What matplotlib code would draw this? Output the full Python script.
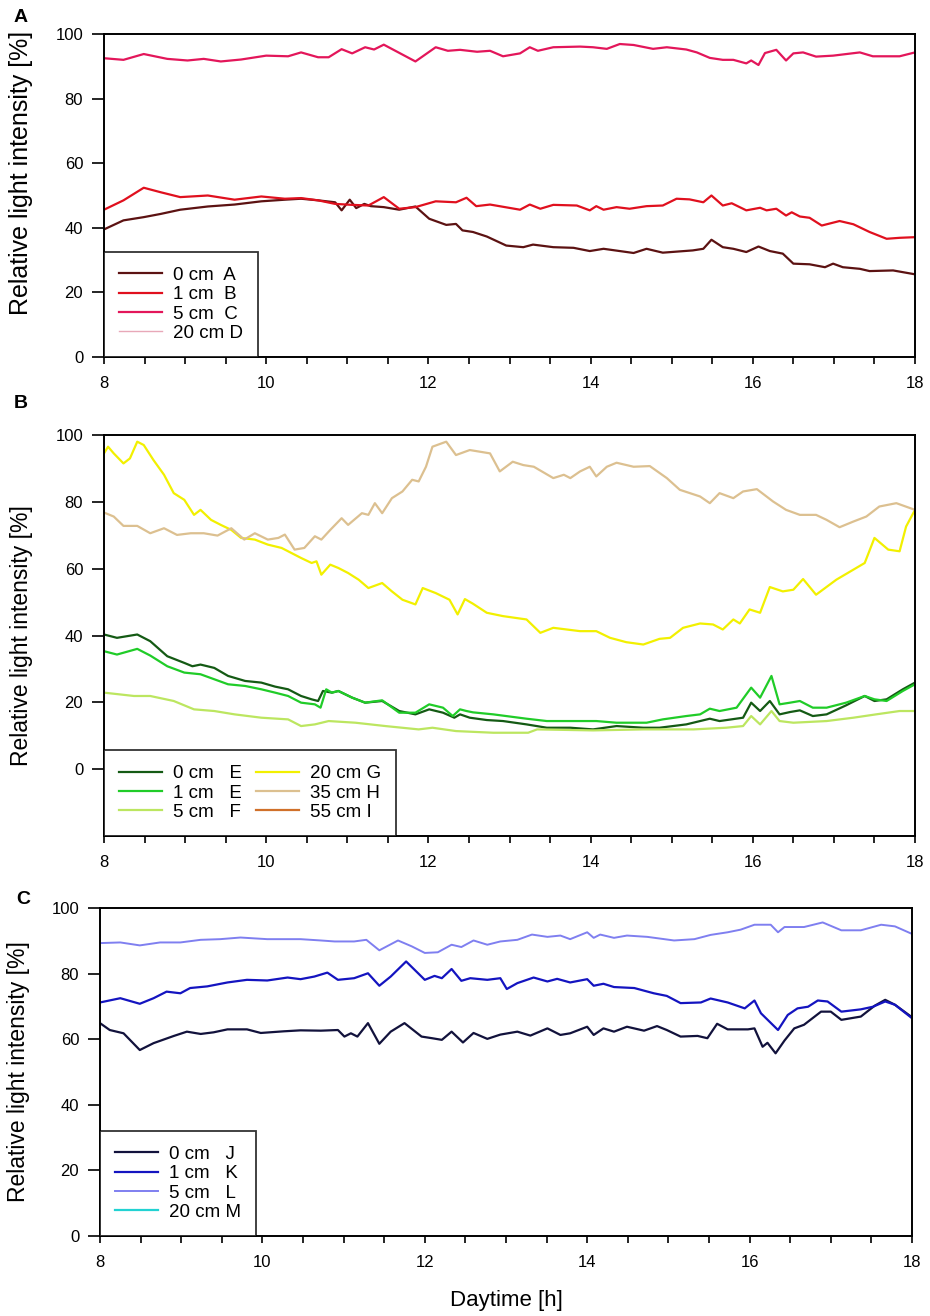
import matplotlib
matplotlib.use("Agg")
import matplotlib.pyplot as plt
from matplotlib.ticker import MultipleLocator

plt.rcParams["font.family"] = ["Liberation Sans", "DejaVu Sans"]

# ---------------- Panel A ----------------
a_0cm_h = [8.00, 8.24, 8.49, 8.70, 8.94, 9.28, 9.61, 9.94, 10.23, 10.43, 10.64, 10.85, 10.93,
           11.03, 11.11, 11.21, 11.29, 11.45, 11.64, 11.84, 12.01, 12.22, 12.34, 12.42, 12.55,
           12.72, 12.96, 13.17, 13.29, 13.54, 13.79, 13.99, 14.16, 14.53, 14.69, 14.89, 15.26,
           15.39, 15.49, 15.63, 15.76, 15.92, 16.07, 16.21, 16.37, 16.50, 16.70, 16.89, 16.99,
           17.11, 17.32, 17.44, 17.73, 18.00]
a_0cm_v = [39.5, 42.3, 43.3, 44.3, 45.6, 46.6, 47.2, 48.2, 48.7, 49.0, 48.5, 47.9, 45.4,
           48.7, 46.1, 47.4, 46.7, 46.4, 45.6, 46.6, 42.8, 40.9, 41.2, 39.2, 38.7,
           37.3, 34.5, 34.0, 34.8, 34.0, 33.8, 32.8, 33.5, 32.2, 33.5, 32.3, 33.0,
           33.5, 36.3, 34.0, 33.5, 32.5, 34.2, 32.8, 32.0, 28.9, 28.7, 27.8, 28.9,
           27.8, 27.3, 26.6, 26.8, 25.6]

a_1cm_h = [8.00, 8.24, 8.49, 8.70, 8.94, 9.28, 9.61, 9.94, 10.23, 10.43, 10.64, 10.85, 11.06,
           11.26, 11.45, 11.64, 11.84, 12.09, 12.34, 12.47, 12.59, 12.76, 13.13, 13.25, 13.38,
           13.54, 13.83, 13.99, 14.07, 14.16, 14.32, 14.48, 14.69, 14.89, 15.06, 15.22, 15.39,
           15.49, 15.63, 15.74, 15.92, 16.09, 16.17, 16.29, 16.41, 16.48, 16.58, 16.70, 16.85,
           17.07, 17.24, 17.44, 17.65, 17.81, 18.00]
a_1cm_v = [45.6, 48.5, 52.4, 51.0, 49.5, 50.0, 48.7, 49.7, 49.0, 49.2, 48.5, 47.4, 47.1,
           46.9, 49.5, 45.9, 46.4, 48.2, 47.9, 49.3, 46.7, 47.2, 45.6, 47.2, 45.9,
           47.1, 46.9, 45.4, 46.7, 45.6, 46.4, 45.9, 46.7, 46.9, 49.0, 48.8, 47.9,
           50.0, 46.9, 47.6, 45.4, 46.2, 45.4, 45.9, 43.8, 44.8, 43.5, 43.1, 40.7,
           42.1, 41.1, 38.7, 36.6, 36.9, 37.1]

a_5cm_h = [8.00, 8.24, 8.49, 8.78, 9.03, 9.23, 9.44, 9.69, 10.00, 10.27, 10.43, 10.64, 10.77,
           10.93, 11.06, 11.22, 11.33, 11.45, 11.84, 12.09, 12.24, 12.39, 12.60, 12.76, 12.92,
           13.13, 13.25, 13.35, 13.54, 13.87, 14.03, 14.20, 14.36, 14.53, 14.77, 14.94, 15.18,
           15.31, 15.47, 15.63, 15.76, 15.92, 15.98, 16.07, 16.15, 16.29, 16.41, 16.50, 16.62,
           16.78, 16.99, 17.32, 17.48, 17.81, 18.00]
a_5cm_v = [92.5, 92.0, 93.8, 92.3, 91.8, 92.3, 91.5, 92.1, 93.3, 93.1, 94.3, 92.8, 92.8,
           95.3, 94.0, 95.9, 95.2, 96.7, 91.5, 95.9, 94.8, 95.1, 94.5, 94.8, 93.1,
           94.0, 95.9, 94.8, 95.9, 96.1, 95.9, 95.4, 96.9, 96.6, 95.4, 95.9, 95.2,
           94.3, 92.6, 92.0, 92.0, 90.9, 91.8, 90.4, 94.1, 95.1, 91.8, 94.0, 94.3,
           93.0, 93.3, 94.3, 93.1, 93.1, 94.3]

a_20cm_h = []
a_20cm_v = []

# ---------------- Panel B ----------------
b_0cm_h = [8.00, 8.16, 8.41, 8.57, 8.78, 8.99, 9.09, 9.19, 9.36, 9.53, 9.74, 9.94, 10.11,
           10.27, 10.43, 10.56, 10.64, 10.70, 10.81, 10.89, 11.06, 11.22, 11.43, 11.64, 11.84,
           12.01, 12.18, 12.32, 12.39, 12.51, 12.72, 12.92, 13.21, 13.46, 13.75, 14.03, 14.32,
           14.65, 14.85, 15.18, 15.47, 15.59, 15.88, 15.98, 16.09, 16.21, 16.33, 16.46, 16.58,
           16.74, 16.91, 17.15, 17.38, 17.50, 17.65, 17.85, 18.00]
b_0cm_v = [40.3, 39.3, 40.3, 38.3, 33.8, 31.8, 30.8, 31.3, 30.3, 27.9, 26.4, 25.9, 24.7,
           23.9, 21.9, 20.9, 20.4, 23.4, 22.9, 23.4, 21.4, 19.9, 20.4, 17.4, 16.4,
           17.9, 16.9, 15.4, 16.4, 15.4, 14.7, 14.4, 13.4, 12.4, 12.4, 11.9, 12.9,
           12.4, 12.4, 13.4, 15.1, 14.4, 15.4, 19.9, 17.4, 20.4, 16.4, 17.1, 17.6,
           15.9, 16.4, 19.1, 21.9, 20.4, 20.9, 23.9, 25.9]

b_1cm_h = [8.00, 8.16, 8.41, 8.57, 8.78, 8.99, 9.19, 9.36, 9.53, 9.74, 9.94, 10.11, 10.27,
           10.43, 10.60, 10.67, 10.74, 10.81, 10.89, 11.06, 11.22, 11.43, 11.64, 11.84, 12.01,
           12.18, 12.30, 12.39, 12.47, 12.55, 12.80, 13.21, 13.46, 13.75, 14.07, 14.32, 14.69,
           14.89, 15.18, 15.35, 15.47, 15.59, 15.80, 15.98, 16.09, 16.23, 16.33, 16.46, 16.58,
           16.74, 16.91, 17.15, 17.38, 17.50, 17.65, 17.85, 18.00]
b_1cm_v = [35.3, 34.3, 36.0, 34.0, 30.8, 28.9, 28.4, 26.9, 25.4, 24.9, 23.9, 22.9, 21.9,
           19.9, 19.4, 18.4, 23.9, 22.9, 23.4, 21.4, 19.9, 20.6, 16.9, 16.9, 19.4,
           18.4, 15.9, 17.9, 17.4, 17.0, 16.4, 15.1, 14.4, 14.4, 14.4, 13.9, 13.9,
           14.9, 15.9, 16.4, 18.1, 17.4, 18.4, 24.4, 21.4, 27.9, 19.4, 19.9, 20.4,
           18.4, 18.4, 19.9, 21.9, 20.9, 20.4, 23.4, 25.4]

b_5cm_h = [8.00, 8.37, 8.57, 8.86, 9.11, 9.36, 9.61, 9.94, 10.27, 10.43, 10.60, 10.77, 11.10,
           11.47, 11.88, 12.05, 12.34, 12.80, 13.23, 13.34, 14.03, 14.65, 15.27, 15.67, 15.88,
           15.98, 16.09, 16.23, 16.33, 16.50, 16.91, 17.24, 17.52, 17.81, 18.00]
b_5cm_v = [22.9, 21.9, 21.9, 20.4, 17.9, 17.4, 16.4, 15.4, 14.9, 12.9, 13.4, 14.4, 13.9,
           12.9, 11.9, 12.4, 11.4, 10.9, 10.9, 11.9, 11.6, 11.9, 11.9, 12.4, 12.9,
           15.9, 13.4, 17.4, 14.4, 13.9, 14.4, 15.4, 16.4, 17.4, 17.4]

b_20cm_h = [8.00, 8.05, 8.12, 8.24, 8.32, 8.41, 8.49, 8.61, 8.74, 8.86, 8.99, 9.11, 9.19,
            9.32, 9.44, 9.57, 9.69, 9.86, 10.02, 10.19, 10.31, 10.43, 10.56, 10.62, 10.68,
            10.79, 10.89, 11.01, 11.14, 11.26, 11.43, 11.55, 11.68, 11.84, 11.93, 12.09, 12.26,
            12.36, 12.45, 12.55, 12.72, 12.92, 13.21, 13.38, 13.54, 13.87, 14.07, 14.24, 14.44,
            14.65, 14.85, 14.98, 15.14, 15.35, 15.51, 15.63, 15.76, 15.84, 15.96, 16.09, 16.21,
            16.37, 16.50, 16.62, 16.78, 17.03, 17.38, 17.50, 17.67, 17.81, 17.89, 18.00]
b_20cm_v = [94.5, 96.5, 94.5, 91.5, 93.0, 98.0, 97.0, 92.5, 88.1, 82.6, 80.6, 76.1, 77.6,
            74.6, 73.1, 71.6, 69.2, 68.7, 67.2, 66.2, 64.7, 63.2, 61.7, 62.2, 58.2,
            61.2, 60.2, 58.7, 56.7, 54.2, 55.7, 53.2, 50.7, 49.3, 54.2, 52.7, 50.7,
            46.3, 50.9, 49.5, 46.8, 45.8, 44.8, 40.8, 42.3, 41.3, 41.3, 39.3, 38.0,
            37.3, 39.0, 39.3, 42.3, 43.6, 43.3, 41.8, 44.8, 43.6, 47.8, 46.8, 54.5,
            53.2, 53.7, 56.9, 52.2, 56.7, 61.7, 69.2, 65.7, 65.2, 72.6, 77.6]

b_35cm_h = [8.00, 8.12, 8.24, 8.41, 8.57, 8.74, 8.90, 9.07, 9.23, 9.40, 9.57, 9.73, 9.86,
            10.02, 10.15, 10.23, 10.35, 10.47, 10.60, 10.68, 10.79, 10.93, 11.01, 11.18, 11.26,
            11.34, 11.43, 11.55, 11.68, 11.80, 11.88, 11.97, 12.05, 12.22, 12.34, 12.51, 12.76,
            12.88, 13.04, 13.17, 13.30, 13.54, 13.67, 13.75, 13.87, 13.99, 14.07, 14.20, 14.32,
            14.53, 14.73, 14.94, 15.10, 15.35, 15.47, 15.59, 15.76, 15.88, 16.05, 16.25, 16.41,
            16.58, 16.78, 16.91, 17.07, 17.24, 17.40, 17.56, 17.77, 18.00]
b_35cm_v = [76.8, 75.6, 72.8, 72.8, 70.6, 72.1, 70.1, 70.6, 70.6, 69.9, 72.1, 68.7, 70.6,
            68.7, 69.2, 70.2, 65.7, 66.2, 69.7, 68.7, 71.6, 75.1, 73.1, 76.6, 76.1,
            79.6, 76.6, 81.1, 83.1, 86.6, 86.1, 90.5, 96.5, 98.0, 94.0, 95.5, 94.5,
            89.1, 92.0, 91.0, 90.5, 87.1, 88.1, 87.1, 89.1, 90.5, 87.6, 90.5, 91.7,
            90.5, 90.7, 87.1, 83.6, 81.6, 79.6, 82.6, 81.1, 83.1, 83.8, 80.1, 77.6,
            76.1, 76.1, 74.6, 72.4, 74.1, 75.6, 78.6, 79.6, 77.6]

b_55cm_h = []
b_55cm_v = []

# ---------------- Panel C ----------------
c_0cm_h = [8.00, 8.12, 8.29, 8.49, 8.66, 8.91, 9.07, 9.24, 9.40, 9.57, 9.81, 9.98, 10.26,
           10.47, 10.72, 10.93, 11.01, 11.09, 11.17, 11.30, 11.44, 11.58, 11.75, 11.96, 12.09,
           12.21, 12.33, 12.47, 12.60, 12.77, 12.93, 13.14, 13.30, 13.51, 13.67, 13.79, 14.00,
           14.08, 14.20, 14.33, 14.49, 14.70, 14.86, 14.98, 15.15, 15.36, 15.48, 15.60, 15.73,
           15.98, 16.06, 16.16, 16.22, 16.32, 16.43, 16.55, 16.67, 16.88, 17.00, 17.13, 17.37,
           17.54, 17.67, 17.79, 18.00]
c_0cm_v = [64.9, 62.8, 61.8, 56.7, 58.8, 61.0, 62.3, 61.6, 62.1, 63.0, 63.0, 61.9, 62.4,
           62.7, 62.6, 62.8, 60.8, 61.8, 60.8, 64.9, 58.6, 62.3, 64.9, 60.8, 60.3,
           59.8, 62.3, 59.0, 61.9, 60.1, 61.4, 62.3, 61.1, 63.3, 61.3, 61.8, 63.8,
           61.3, 63.3, 62.3, 63.8, 62.6, 64.0, 62.8, 60.8, 61.0, 60.3, 64.7, 63.0,
           63.0, 63.3, 57.7, 58.9, 55.7, 59.6, 63.3, 64.4, 68.4, 68.4, 65.9, 66.9,
           70.2, 72.0, 70.5, 66.7]

c_1cm_h = [8.00, 8.25, 8.49, 8.66, 8.82, 8.99, 9.11, 9.32, 9.57, 9.81, 10.06, 10.31, 10.47,
           10.64, 10.80, 10.93, 11.13, 11.30, 11.44, 11.58, 11.77, 12.00, 12.12, 12.21, 12.33,
           12.45, 12.56, 12.77, 12.93, 13.01, 13.14, 13.34, 13.51, 13.63, 13.79, 14.00, 14.08,
           14.20, 14.33, 14.58, 14.82, 14.98, 15.15, 15.40, 15.52, 15.73, 15.94, 16.06, 16.14,
           16.35, 16.47, 16.59, 16.72, 16.84, 16.96, 17.13, 17.37, 17.52, 17.67, 17.79, 18.00]
c_1cm_v = [71.2, 72.5, 70.8, 72.5, 74.5, 74.0, 75.6, 76.1, 77.3, 78.1, 77.9, 78.8, 78.3,
           79.1, 80.3, 78.1, 78.6, 80.1, 76.3, 79.1, 83.7, 78.1, 79.3, 78.6, 81.4,
           77.8, 78.6, 78.1, 78.6, 75.3, 77.1, 78.8, 77.6, 78.4, 77.3, 78.3, 76.3,
           76.9, 75.9, 75.6, 74.0, 73.2, 71.0, 71.2, 72.4, 71.2, 69.4, 71.8, 67.9,
           62.8, 67.4, 69.4, 69.9, 71.8, 71.5, 68.4, 69.1, 69.9, 71.5, 70.5, 66.4]

c_5cm_h = [8.00, 8.25, 8.49, 8.74, 8.99, 9.24, 9.48, 9.73, 10.06, 10.47, 10.72, 10.89, 11.13,
           11.28, 11.44, 11.67, 11.84, 12.00, 12.16, 12.33, 12.45, 12.60, 12.77, 12.93, 13.14,
           13.32, 13.51, 13.67, 13.79, 14.00, 14.08, 14.16, 14.33, 14.49, 14.74, 15.07, 15.32,
           15.52, 15.73, 15.89, 16.06, 16.26, 16.35, 16.43, 16.67, 16.90, 17.13, 17.37, 17.62,
           17.79, 18.00]
c_5cm_v = [89.3, 89.5, 88.6, 89.5, 89.5, 90.3, 90.5, 91.0, 90.5, 90.5, 90.1, 89.8, 89.8,
           90.3, 87.1, 90.1, 88.3, 86.3, 86.5, 88.8, 88.1, 90.1, 88.8, 89.8, 90.3,
           91.9, 91.2, 91.6, 90.5, 92.6, 90.9, 91.9, 90.9, 91.6, 91.2, 90.1, 90.5,
           91.8, 92.6, 93.4, 94.9, 94.9, 92.6, 94.2, 94.2, 95.6, 93.2, 93.2, 94.9,
           94.4, 92.1]

c_20cm_h = []
c_20cm_v = []

panel_a = [(a_0cm_h, a_0cm_v, "0 cm  A", "#5c1212", 1.6),
           (a_1cm_h, a_1cm_v, "1 cm  B", "#e0101e", 1.6),
           (a_5cm_h, a_5cm_v, "5 cm  C", "#e3165a", 1.6),
           (a_20cm_h, a_20cm_v, "20 cm D", "#e8a8b8", 1.0)]
panel_b = [(b_0cm_h, b_0cm_v, "0 cm   E", "#145a14", 1.6),
           (b_1cm_h, b_1cm_v, "1 cm   E", "#20cc28", 1.6),
           (b_5cm_h, b_5cm_v, "5 cm   F", "#bce660", 1.6),
           (b_20cm_h, b_20cm_v, "20 cm G", "#f2f000", 1.6),
           (b_35cm_h, b_35cm_v, "35 cm H", "#dcc090", 1.6),
           (b_55cm_h, b_55cm_v, "55 cm I", "#d0702a", 1.6)]
panel_c = [(c_0cm_h, c_0cm_v, "0 cm   J", "#12123c", 1.6),
           (c_1cm_h, c_1cm_v, "1 cm   K", "#1414c0", 1.6),
           (c_5cm_h, c_5cm_v, "5 cm   L", "#7f7ff0", 1.4),
           (c_20cm_h, c_20cm_v, "20 cm M", "#22d2d2", 1.6)]

W, H = 930, 1316
fig = plt.figure(figsize=(W / 100, H / 100), dpi=100)


def _rect(left, right, top, bottom):
    return [left / W, 1 - bottom / H, (right - left) / W, (bottom - top) / H]


def _style(ax, ymin, label_x, label_y=0.5, label_size=16.5):
    ax.set_xlim(8, 18)
    ax.set_ylim(ymin, 100)
    ax.set_xticks([8, 10, 12, 14, 16, 18])
    ax.xaxis.set_minor_locator(MultipleLocator(0.5))
    ax.set_yticks([0, 20, 40, 60, 80, 100])
    ax.tick_params(axis="x", which="both", direction="out", length=5, width=1.2,
                   labelsize=12, pad=9)
    ax.tick_params(axis="y", direction="out", length=9, width=1.2, labelsize=12, pad=6)
    for s in ax.spines.values():
        s.set_linewidth(1.4)
    ax.set_ylabel("Relative light intensity [%]", fontsize=label_size)
    ax.yaxis.set_label_coords(label_x, label_y)


def _draw(ax, series, ncol):
    for h, v, lab, col, lw in series:
        ax.plot(h, v, color=col, linewidth=lw, label=lab)
    leg = ax.legend(loc="lower left", ncol=ncol, frameon=True, fancybox=False,
                    edgecolor="black", fontsize=13.5, borderaxespad=0,
                    handlelength=2.3, handletextpad=0.6, labelspacing=0.12,
                    columnspacing=0.7, borderpad=0.8)
    leg.get_frame().set_linewidth(1.3)


ax_a = fig.add_axes(_rect(104, 915, 34, 357))
_style(ax_a, 0, -0.088, 0.57, 18)
_draw(ax_a, panel_a, 1)

ax_b = fig.add_axes(_rect(104, 915, 435, 836))
_style(ax_b, -20, -0.088)
_draw(ax_b, panel_b, 2)

ax_c = fig.add_axes(_rect(100, 912, 908, 1236))
_style(ax_c, 0, -0.086)
_draw(ax_c, panel_c, 1)
ax_c.set_xlabel("Daytime [h]", fontsize=16, labelpad=14)

for lab, x, y in [("A", 14, 18), ("B", 14, 404), ("C", 16, 900)]:
    fig.text(x / W, 1 - y / H, lab, fontsize=14, fontweight="bold", va="center", ha="left")

fig.savefig("out.png", dpi=100, facecolor="white")
